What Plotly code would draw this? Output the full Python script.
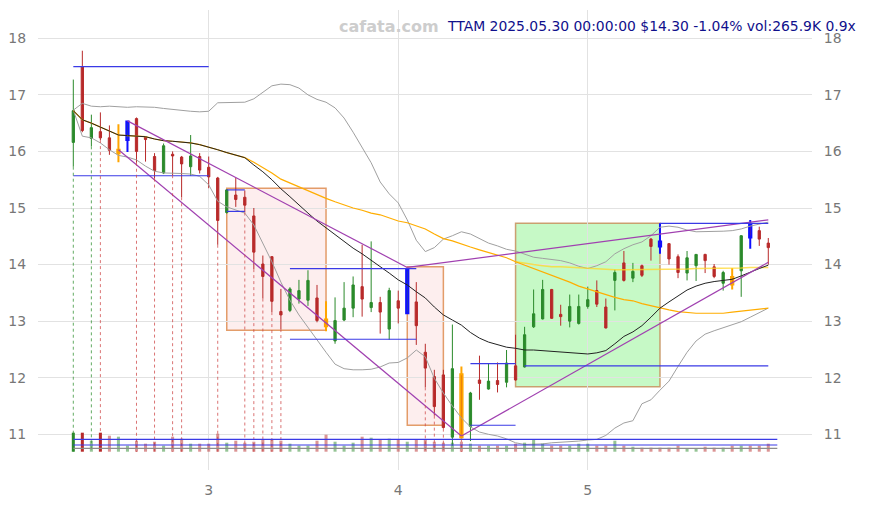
import plotly.graph_objects as go

# ---------------- data ----------------
IDX0 = 48          # bar index of first candle; x = index / 21
PER_UNIT = 21

open_ = [16.16, 17.50, 16.23, 16.35, 16.24, 15.97, 16.20, 16.58, 16.25, 15.91,
         15.62, 15.95, 15.90, 15.73, 15.91, 15.72, 15.53, 14.92, 15.23, 15.19,
         14.86, 14.01, 14.14, 13.17, 13.19, 13.39, 13.37, 13.41, 13.03, 12.65,
         13.02, 13.23, 13.61, 13.24, 13.33, 12.86, 13.36, 13.14, 13.34, 12.45,
         12.02, 12.05, 10.95, 12.06, 11.14, 11.96, 11.80, 11.95, 11.92, 12.21,
         12.19, 12.90, 13.04, 13.56, 13.12, 13.00, 12.96, 13.26, 13.54, 13.25,
         13.72, 14.03, 13.76, 13.98, 14.45, 14.41, 14.37, 14.14, 13.85, 13.98,
         14.18, 13.96, 13.67, 13.78, 13.89, 14.71, 14.60, 14.38]
high = [17.27, 17.78, 16.65, 16.69, 16.46, 16.48, 16.54, 16.60, 16.27, 15.97,
        16.14, 16.00, 15.92, 16.29, 15.97, 15.91, 15.55, 15.33, 15.53, 15.31,
        15.00, 14.16, 14.15, 13.57, 13.60, 13.73, 13.90, 13.64, 13.35, 13.42,
        13.69, 13.79, 14.35, 14.41, 13.43, 13.59, 13.54, 13.93, 13.69, 12.60,
        12.14, 12.14, 12.94, 12.20, 11.75, 12.39, 12.26, 12.27, 12.49, 12.76,
        12.90, 13.56, 13.73, 13.57, 13.29, 13.47, 13.47, 13.61, 13.72, 13.40,
        13.91, 14.24, 14.03, 14.00, 14.47, 14.73, 14.38, 14.18, 14.24, 14.18,
        14.19, 14.01, 13.89, 13.94, 14.52, 14.79, 14.67, 14.47]
low = [15.73, 16.34, 16.09, 16.20, 15.94, 15.81, 15.99, 15.80, 15.82, 15.52,
       15.60, 15.58, 15.19, 15.57, 15.61, 15.35, 14.35, 14.90, 15.02, 14.92,
       13.92, 13.40, 13.16, 12.86, 13.16, 13.31, 13.27, 12.98, 12.82, 12.60,
       13.00, 13.07, 13.08, 13.16, 12.78, 12.67, 12.96, 13.12, 12.58, 11.83,
       11.33, 11.10, 10.80, 10.92, 10.88, 11.61, 11.79, 11.74, 11.83, 11.95,
       12.18, 12.88, 13.03, 13.04, 12.92, 12.89, 12.94, 13.22, 13.25, 12.87,
       13.19, 13.70, 13.69, 13.78, 14.07, 14.19, 14.00, 13.76, 13.72, 13.71,
       13.85, 13.76, 13.54, 13.56, 13.43, 14.28, 14.33, 14.00]
close = [16.72, 16.37, 16.42, 16.24, 16.02, 16.03, 16.53, 16.00, 16.21, 15.66,
         16.10, 15.92, 15.78, 15.92, 15.67, 15.55, 14.78, 15.32, 15.15, 15.05,
         14.22, 13.79, 13.35, 13.11, 13.57, 13.54, 13.72, 13.01, 12.91, 13.01,
         13.23, 13.64, 13.39, 13.33, 13.16, 13.54, 13.23, 13.92, 12.92, 12.17,
         11.49, 11.12, 12.16, 10.95, 11.73, 11.90, 11.94, 11.88, 12.26, 11.96,
         12.76, 13.13, 13.56, 13.05, 13.08, 13.26, 13.26, 13.38, 13.30, 12.88,
         13.86, 13.72, 13.88, 13.81, 14.32, 14.32, 14.10, 13.86, 14.12, 14.18,
         14.07, 13.79, 13.86, 13.65, 14.51, 14.48, 14.45, 14.30]
volume_k = [631, 631, 365, 631, 531, 498, 199, 365, 266, 332,
            199, 498, 432, 266, 266, 266, 598, 299, 365, 299,
            332, 398, 398, 365, 266, 199, 199, 365, 564, 332,
            199, 299, 498, 465, 398, 432, 398, 332, 398, 398,
            332, 299, 299, 332, 266, 199, 199, 199, 199, 266,
            299, 398, 266, 199, 199, 199, 266, 266, 199, 199,
            365, 199, 166, 133, 133, 133, 133, 199, 100, 100,
            166, 133, 133, 199, 199, 199, 199, 265.9]
ma_black = [16.72, 16.56, 16.50, 16.43, 16.36, 16.29, 16.28, 16.27, 16.26, 16.22,
            16.19, 16.18, 16.17, 16.15, 16.12, 16.08, 16.03, 15.98, 15.94, 15.89,
            15.76, 15.64, 15.50, 15.34, 15.20, 15.05, 14.91, 14.77, 14.65, 14.52,
            14.40, 14.29, 14.19, 14.08, 13.97, 13.85, 13.73, 13.64, 13.52, 13.41,
            13.25, 13.11, 13.02, 12.93, 12.80, 12.70, 12.63, 12.59, 12.54, 12.52,
            12.49, 12.49, 12.48, 12.47, 12.46, 12.45, 12.44, 12.42, 12.44, 12.48,
            12.60, 12.73, 12.81, 12.92, 13.07, 13.23, 13.34, 13.45, 13.55, 13.62,
            13.67, 13.70, 13.72, 13.74, 13.80, 13.87, 13.93, 13.99]
ma_orange = [16.72, 16.56, 16.50, 16.43, 16.36, 16.29, 16.28, 16.27, 16.26, 16.22,
             16.19, 16.18, 16.17, 16.15, 16.12, 16.08, 16.03, 15.98, 15.94, 15.89,
             15.81, 15.72, 15.62, 15.51, 15.44, 15.37, 15.30, 15.23, 15.17, 15.11,
             15.05, 15.00, 14.96, 14.91, 14.88, 14.83, 14.77, 14.74, 14.69, 14.63,
             14.54, 14.46, 14.42, 14.36, 14.31, 14.26, 14.21, 14.17, 14.12, 14.05,
             13.99, 13.94, 13.88, 13.82, 13.76, 13.69, 13.62, 13.57, 13.52, 13.46,
             13.42, 13.38, 13.36, 13.31, 13.27, 13.23, 13.20, 13.17, 13.15, 13.14,
             13.14, 13.14, 13.14, 13.16, 13.18, 13.20, 13.21, 13.23]
YELLOW_START = 49
ma_yellow = [14.05, 14.02, 14.00, 13.98, 13.96, 13.96, 13.95, 13.94, 13.93, 13.92,
             13.92, 13.91, 13.91, 13.91, 13.91, 13.91, 13.92, 13.92, 13.92, 13.92,
             13.93, 13.93, 13.93, 13.94, 13.94, 13.94, 13.95, 13.95, 13.95]
bb_upper = [16.73, 16.85, 16.80, 16.79, 16.80, 16.79, 16.78, 16.79, 16.79, 16.78,
            16.76, 16.74, 16.73, 16.71, 16.70, 16.71, 16.86, 16.86, 16.87, 16.87,
            16.93, 17.05, 17.16, 17.19, 17.18, 17.12, 17.00, 16.92, 16.87, 16.77,
            16.59, 16.34, 16.08, 15.80, 15.46, 15.25, 15.09, 14.79, 14.43, 14.23,
            14.30, 14.45, 14.51, 14.58, 14.54, 14.46, 14.38, 14.33, 14.27, 14.24,
            14.19, 14.13, 14.11, 14.09, 14.07, 14.03, 13.97, 13.93, 13.98, 14.05,
            14.19, 14.28, 14.35, 14.40, 14.51, 14.66, 14.68, 14.66, 14.61, 14.58,
            14.58, 14.58, 14.59, 14.60, 14.63, 14.68, 14.72, 14.75]
bb_lower = [16.73, 16.27, 16.24, 16.15, 16.03, 15.93, 15.90, 15.85, 15.74, 15.65,
            15.62, 15.62, 15.61, 15.60, 15.56, 15.41, 15.12, 15.02, 14.97, 14.91,
            14.70, 14.38, 14.05, 13.69, 13.37, 13.11, 12.88, 12.67, 12.45, 12.24,
            12.16, 12.14, 12.14, 12.15, 12.19, 12.26, 12.27, 12.35, 12.49, 12.37,
            11.99, 11.73, 11.50, 11.29, 11.13, 11.04, 11.00, 10.97, 10.92, 10.85,
            10.82, 10.82, 10.83, 10.85, 10.86, 10.86, 10.88, 10.90, 10.91, 10.98,
            11.11, 11.20, 11.24, 11.54, 11.61, 11.78, 11.94, 12.20, 12.45, 12.65,
            12.77, 12.83, 12.88, 12.93, 12.99, 13.07, 13.15, 13.23]

orange_idx = [5, 28, 43, 73]
blue_idx = [6, 37, 65, 75]
mark_up_idx = [0, 2]
mark_down_idx = [3, 7, 9, 11, 12, 16, 19, 20, 21, 22, 23, 39, 40, 41, 43]
solid_vol_idx = [0, 1, 3]

# horizontal level segments: (start index, end index, price)
blue_levels = [(0, 15, 17.50), (0, 15, 15.57), (17, 19, 15.32), (17, 19, 14.94),
               (24, 38, 13.93), (24, 38, 12.68), (44, 49, 12.25), (44, 49, 11.16),
               (50, 77, 12.21), (65, 77, 14.73)]
# trend lines: (i0, p0, i1, p1)
trend_lines = [(6, 16.54, 37, 13.95), (5, 16.03, 43, 10.97),
               (43, 10.97, 77, 14.04), (37, 13.95, 77, 14.79)]
# zones: (i0, i1, top, bottom, kind)
zones = [(17, 28, 15.35, 12.84, "down"), (37, 41, 13.96, 11.16, "down"),
         (49, 65, 14.73, 11.84, "up")]
vol_levels_k = [412, 222, 113]
vol_level_colors = ["#3a3ae6", "#3a3ae6", "#8c8c8c"]

y_ticks = [11, 12, 13, 14, 15, 16, 17, 18]
x_ticks = [3, 4, 5]
title_txt = "TTAM 2025.05.30 00:00:00 $14.30 -1.04% vol:265.9K 0.9x"
watermark = "cafata.com"

# ---------------- styling ----------------
GREEN = "#2b8a2b"
RED = "#b82a2a"
X_RANGE = [2.0994, 6.183]
Y_RANGE = [10.369, 18.50]
VOL_RANGE = [-607.5, 14664]
VOL_FLOOR = 10.69   # price level where volume bars sit

n = len(close)
x = [(IDX0 + k) / PER_UNIT for k in range(n)]
step = 1 / PER_UNIT

fig = go.Figure()

# zones
for i0, i1, top, bot, kind in zones:
    if kind == "down":
        fill, edge = "rgba(250,200,200,0.30)", "rgba(222,140,80,0.85)"
    else:
        fill, edge = "rgba(120,240,120,0.42)", "rgba(200,150,100,0.9)"
    fig.add_shape(type="rect", x0=x[i0], x1=x[i1], y0=bot, y1=top,
                  xref="x", yref="y", fillcolor=fill,
                  line=dict(color=edge, width=1.5), layer="below")

# bollinger bands
fig.add_trace(go.Scatter(x=x, y=bb_upper, mode="lines",
                         line=dict(color="#a0a0a0", width=1)))
fig.add_trace(go.Scatter(x=x, y=bb_lower, mode="lines",
                         line=dict(color="#a0a0a0", width=1)))
# moving averages
fig.add_trace(go.Scatter(x=x[YELLOW_START:], y=ma_yellow, mode="lines",
                         line=dict(color="rgba(255,215,40,0.75)", width=1.5)))
fig.add_trace(go.Scatter(x=x, y=ma_orange, mode="lines",
                         line=dict(color="#ffad00", width=1.2)))
fig.add_trace(go.Scatter(x=x, y=ma_black, mode="lines",
                         line=dict(color="#222222", width=1)))

# trend lines
tx, ty = [], []
for i0, p0, i1, p1 in trend_lines:
    tx += [x[i0], x[i1], None]
    ty += [p0, p1, None]
fig.add_trace(go.Scatter(x=tx, y=ty, mode="lines",
                         line=dict(color="#a040b0", width=1.2)))

# blue levels
bx, by = [], []
for i0, i1, p in blue_levels:
    bx += [x[i0], x[i1], None]
    by += [p, p, None]
fig.add_trace(go.Scatter(x=bx, y=by, mode="lines",
                         line=dict(color="#3a3ae6", width=1.2)))

# dotted markers
for idxs, col in ((mark_up_idx, "rgba(60,150,60,0.8)"),
                  (mark_down_idx, "rgba(205,70,70,0.75)")):
    mx, my = [], []
    for k in idxs:
        mx += [x[k], x[k], None]
        my += [low[k], VOL_FLOOR, None]
    fig.add_trace(go.Scatter(x=mx, y=my, mode="lines",
                             line=dict(color=col, width=1, dash="dot")))

# volume
vcols = []
for k in range(n):
    up = close[k] >= open_[k]
    a = 1.0 if k in solid_vol_idx else 0.5
    vcols.append(f"rgba(43,138,43,{a})" if up else f"rgba(184,42,42,{a})")
fig.add_trace(go.Bar(x=x, y=volume_k, yaxis="y2", width=0.016,
                     marker=dict(color=vcols, line=dict(width=0))))
for v, c in zip(vol_levels_k, vol_level_colors):
    fig.add_trace(go.Scatter(x=[x[0], x[-1] + step], y=[v, v], yaxis="y2",
                             mode="lines", line=dict(color=c, width=1.2)))


def sub(idxs):
    return dict(x=[x[k] for k in idxs], open=[open_[k] for k in idxs],
                high=[high[k] for k in idxs], low=[low[k] for k in idxs],
                close=[close[k] for k in idxs])


normal = [k for k in range(n) if k not in orange_idx and k not in blue_idx]
fig.add_trace(go.Candlestick(**sub(normal),
                             increasing=dict(line=dict(color=GREEN, width=1), fillcolor=GREEN),
                             decreasing=dict(line=dict(color=RED, width=1), fillcolor=RED)))
fig.add_trace(go.Candlestick(**sub(orange_idx),
                             increasing=dict(line=dict(color="#ffa500", width=2), fillcolor=GREEN),
                             decreasing=dict(line=dict(color="#ffa500", width=2), fillcolor=RED)))
fig.add_trace(go.Candlestick(**sub(blue_idx),
                             increasing=dict(line=dict(color="#1010ff", width=2), fillcolor=GREEN),
                             decreasing=dict(line=dict(color="#1010ff", width=2), fillcolor=RED)))

# invisible trace for the right axis
fig.add_trace(go.Scatter(x=[x[0]], y=[close[0]], yaxis="y3", mode="markers",
                         marker=dict(opacity=0), hoverinfo="skip"))

tickfont = dict(family="DejaVu Sans", size=14, color="#777777")
# the page body adds an 8px offset, so the figure is 8px smaller on each axis
fig.update_layout(
    width=861, height=497,
    margin=dict(l=30, r=57, t=2, b=35, autoexpand=False),
    paper_bgcolor="white", plot_bgcolor="white",
    showlegend=False, hovermode=False,
    boxgap=0.64,
    xaxis=dict(range=X_RANGE, tickvals=x_ticks, ticktext=[str(t) for t in x_ticks],
               showgrid=True, gridcolor="#e2e2e2", gridwidth=1, zeroline=False,
               ticks="outside", ticklen=7, tickcolor="rgba(0,0,0,0)", automargin=False,
               tickfont=tickfont, rangeslider=dict(visible=False), fixedrange=True),
    yaxis=dict(range=Y_RANGE, tickvals=y_ticks, showgrid=True, gridcolor="#e2e2e2",
               gridwidth=1, zeroline=False, ticks="outside", ticklen=8, automargin=False,
               tickcolor="rgba(0,0,0,0)", tickfont=tickfont, side="left"),
    yaxis2=dict(range=VOL_RANGE, overlaying="y", visible=False, automargin=False),
    yaxis3=dict(range=Y_RANGE, overlaying="y", side="right", tickvals=y_ticks,
                showgrid=False, zeroline=False, ticks="outside", ticklen=8,
                automargin=False,
                tickcolor="rgba(0,0,0,0)", tickfont=tickfont),
    annotations=[
        dict(text=title_txt, xref="paper", yref="paper", x=1.0594, y=0.9652,
             xanchor="right", yanchor="middle", showarrow=False,
             font=dict(family="DejaVu Sans", size=13.9, color="#10108c")),
        dict(text=f"<b>{watermark}</b>", xref="paper", yref="paper", x=0.4535, y=0.9652,
             xanchor="center", yanchor="middle", showarrow=False,
             font=dict(family="DejaVu Sans", size=16, color="#cdcdcd")),
    ],
)

fig.write_html("out.html")
